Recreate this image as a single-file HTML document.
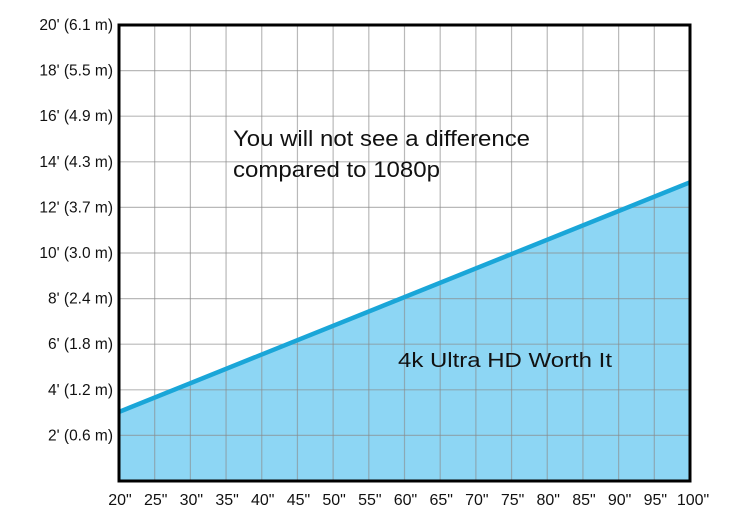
<!DOCTYPE html>
<html><head><meta charset="utf-8"><style>
html,body{margin:0;padding:0;background:#fff;}
svg{display:block;font-family:"Liberation Sans",Arial,sans-serif;}
</style></head><body>
<svg id="chart" width="740" height="531" viewBox="0 0 740 531">
<g id="grid"></g>
<g id="area"></g>
<g id="axes"></g>
<text x="233" y="146" font-size="22" textLength="297" lengthAdjust="spacingAndGlyphs" fill="#111">You will not see a difference</text>
<text x="233" y="177" font-size="22" textLength="207" lengthAdjust="spacingAndGlyphs" fill="#111">compared to 1080p</text>
<text x="398" y="367" font-size="20" textLength="214" lengthAdjust="spacingAndGlyphs" fill="#111">4k Ultra HD Worth It</text>
</svg>
<script>
const xTicks = [20,25,30,35,40,45,50,55,60,65,70,75,80,85,90,95,100];
const yTicks = [2,4,6,8,10,12,14,16,18,20];
const yLabels = ["2' (0.6 m)","4' (1.2 m)","6' (1.8 m)","8' (2.4 m)","10' (3.0 m)","12' (3.7 m)","14' (4.3 m)","16' (4.9 m)","18' (5.5 m)","20' (6.1 m)"];
const lineSizes = [20,100];
const lineDistances = [3.03,13.1];

const L=119,R=690,T=25,B=481;
const xs=v=>L+(v-20)/80*(R-L);
const ys=v=>B-v/20*(B-T);
const NS='http://www.w3.org/2000/svg';
function mk(tag,attrs,parent){const e=document.createElementNS(NS,tag);for(const k in attrs)e.setAttribute(k,attrs[k]);parent.appendChild(e);return e;}
const grid=document.getElementById('grid'),area=document.getElementById('area'),axes=document.getElementById('axes');
mk('rect',{x:L,y:T,width:R-L,height:B-T,fill:'#fff'},grid);
const pts=lineSizes.map((s,i)=>xs(s)+','+ys(lineDistances[i]));
const poly=mk('polygon',{points:xs(lineSizes[0])+','+B+' '+pts.join(' ')+' '+xs(lineSizes[lineSizes.length-1])+','+B,fill:'#8dd6f4'},area);


xTicks.forEach(v=>{const l=mk('line',{x1:xs(v),x2:xs(v),y1:T,y2:B,stroke:'#8a8a8a','stroke-opacity':0.6,'stroke-width':1.2},area);


const t=mk('text',{x:xs(v)+(v===100?3:1),y:505,'font-size':16,'text-anchor':'middle',fill:'#111'},axes);t.textContent=v+'"';

});
yTicks.forEach((v,i)=>{const l=mk('line',{x1:L,x2:R,y1:ys(v),y2:ys(v),stroke:'#8a8a8a','stroke-opacity':0.6,'stroke-width':1.2},area);


const t=mk('text',{x:113,y:ys(v)+5,'font-size':15.5,'text-anchor':'end',fill:'#111'},axes);t.textContent=yLabels[i];

});
const ln=mk('polyline',{points:pts.join(' '),fill:'none',stroke:'#1aa6d8','stroke-width':4.5},area);


const fr=mk('rect',{x:L,y:T,width:R-L,height:B-T,fill:'none',stroke:'#000','stroke-width':3},axes);


</script>
</body></html>
